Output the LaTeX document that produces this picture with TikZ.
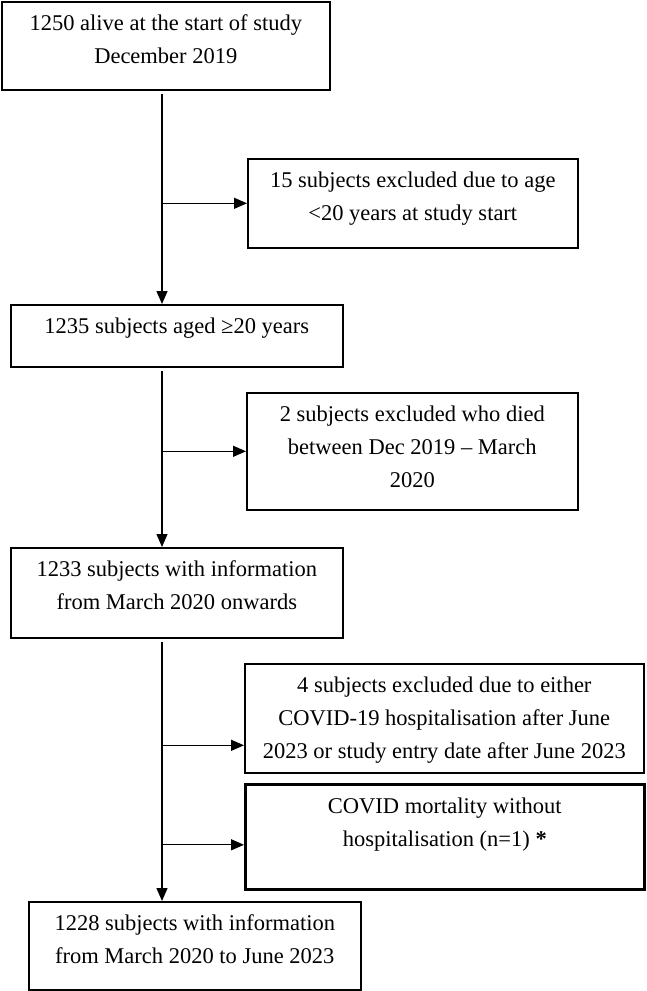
\documentclass[tikz,border=0pt]{standalone}
\usepackage{fontspec}
\setmainfont{Liberation Serif}
\usetikzlibrary{arrows.meta,positioning}

% text of a box, set at its top edge
\newcommand{\boxtxt}[3]{\parbox[t][#2][t]{#1}{\centering\rule{0pt}{29pt}#3}}

\begin{document}
\begin{tikzpicture}[x=1pt,y=-1pt,
  flowbox/.style={draw,line width=1.6pt,inner sep=0pt,anchor=north west,font=\fontsize{22.5}{33}\selectfont},
  flowline/.style={line width=1.3pt,-{Triangle[length=13pt,width=11pt]}}]
  \useasboundingbox (0,0) rectangle (646,991);
  % main column
  \node[flowbox] (alive) at (1,1) {\boxtxt{328pt}{88pt}{1250 alive at the start of study\\December 2019}};
  \node[flowbox] (aged) at (10,304) {\boxtxt{332pt}{62pt}{1235 subjects aged ≥20 years}};
  \node[flowbox] (info) at (10,547) {\boxtxt{332pt}{90pt}{1233 subjects with information\\from March 2020 onwards}};
  \node[flowbox] (final) at (28,901) {\boxtxt{332pt}{88pt}{1228 subjects with information\\from March 2020 to June 2023}};
  % exclusions
  \node[flowbox] (young) at (247,158) {\boxtxt{330pt}{89pt}{15 subjects excluded due to age\\<20 years at study start}};
  \node[flowbox] (died) at (246,392) {\boxtxt{331pt}{117pt}{2 subjects excluded who died\\between Dec 2019 – March\\2020}};
  \node[flowbox] (excl) at (244,663) {\boxtxt{399pt}{109pt}{4 subjects excluded due to either\\COVID-19 hospitalisation after June\\2023 or study entry date after June 2023}};
  \node[flowbox,line width=2.6pt] (covid) at (244,783) {\boxtxt{399pt}{105pt}{COVID mortality without\\hospitalisation (n=1) \textbf{*}}};
  % connectors
  \coordinate (trunk) at (162,0);
  \coordinate (exclin) at ([yshift=-27pt]excl.west);
  \coordinate (covidin) at ([yshift=-8pt]covid.west);
  \draw[flowline,shorten <=3pt] (alive.south -| trunk) -- (aged.north -| trunk);
  \draw[flowline] (trunk |- young.west) -- (young.west);
  \draw[flowline,shorten <=3pt] (aged.south -| trunk) -- (info.north -| trunk);
  \draw[flowline] (trunk |- died.west) -- (died.west);
  \draw[flowline,shorten <=3pt] (info.south -| trunk) -- (final.north -| trunk);
  \draw[flowline] (trunk |- exclin) -- (exclin);
  \draw[flowline] (trunk |- covidin) -- (covidin);
\end{tikzpicture}
\end{document}
